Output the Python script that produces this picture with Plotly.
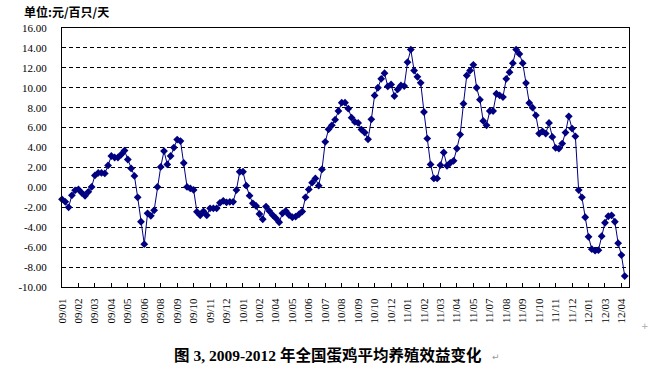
import plotly.graph_objects as go

# Weekly average egg-laying hen breeding profit (yuan per 100 hens per day)
values = [-1.2, -1.45, -2.0, -0.8, -0.3, -0.2, -0.55, -0.85, -0.45, 0.05,
          1.2, 1.45, 1.45, 1.4, 2.2, 3.15, 3.0, 3.0, 3.3, 3.7,
          2.8, 1.9, 1.15, -1.0, -3.45, -5.7, -2.6, -2.85, -2.3, 0.05,
          2.05, 3.65, 2.3, 3.15, 4.0, 4.8, 4.65, 2.45, 0.05, -0.1,
          -0.25, -2.45, -2.8, -2.4, -2.8, -2.1, -2.1, -2.1, -1.55, -1.35,
          -1.5, -1.45, -1.45, -0.27, 1.57, 1.57, 0.17, -0.83, -1.6, -1.87,
          -2.67, -3.2, -1.93, -2.37, -2.77, -3.1, -3.5, -2.6, -2.37, -2.77,
          -3.0, -2.93, -2.7, -2.43, -1.0, -0.2, 0.47, 0.9, 0.17, 1.8,
          4.57, 5.83, 6.23, 6.8, 7.67, 8.5, 8.5, 7.9, 7.0, 6.57,
          6.47, 5.8, 5.5, 4.83, 6.83, 9.23, 10.0, 10.9, 11.47, 10.13,
          10.33, 9.17, 9.83, 10.23, 10.17, 12.57, 13.83, 11.73, 11.1, 10.5,
          7.57, 4.9, 2.3, 0.9, 0.9, 2.23, 3.5, 2.17, 2.47, 2.67,
          3.9, 5.3, 8.4, 11.23, 11.73, 12.3, 10.0, 8.8, 6.67, 6.23,
          7.67, 7.67, 9.4, 9.23, 9.07, 10.9, 11.57, 12.47, 13.83, 13.4,
          12.47, 10.47, 8.47, 8.0, 7.23, 5.4, 5.63, 5.4, 6.47, 5.07,
          3.97, 3.9, 4.4, 5.5, 7.13, 5.9, 5.13, -0.27, -1.0, -3.0,
          -4.96, -6.2, -6.35, -6.3, -4.9, -3.55, -2.9, -2.8, -3.45, -5.6,
          -6.8, -8.9]

tick_labels = ["09/01", "09/02", "09/03", "09/04", "09/05", "09/06", "09/08",
               "09/09", "09/10", "09/11", "09/12", "10/01", "10/02", "10/04",
               "10/05", "10/06", "10/07", "10/08", "10/09", "10/10", "10/12",
               "11/01", "11/02", "11/03", "11/04", "11/05", "11/07", "11/08",
               "11/09", "11/10", "11/11", "11/12", "12/01", "12/03", "12/04"]
label_step = 5  # one label every 5 weekly points

y_ticks = [-10, -8, -6, -4, -2, 0, 2, 4, 6, 8, 10, 12, 14, 16]

unit_text = "单位:元/百只/天"
title_text = "图 3, 2009-2012 年全国蛋鸡平均养殖效益变化"

x = list(range(len(values)))
x_tickvals = [k * label_step for k in range(len(tick_labels))]

fig = go.Figure()
fig.add_trace(go.Scatter(
    x=x, y=values, mode="lines+markers",
    line=dict(color="#000080", width=1),
    marker=dict(symbol="diamond", size=6, color="#000080"),
    cliponaxis=False, showlegend=False, hoverinfo="skip",
))

serif = "Liberation Serif, Times New Roman, serif"

fig.update_layout(
    width=651, height=377,
    margin=dict(l=62, r=22, t=28, b=90),
    paper_bgcolor="white", plot_bgcolor="white",
    xaxis=dict(
        range=[0, 172.3],
        tickmode="array", tickvals=x_tickvals, ticktext=tick_labels,
        tickangle=-90, ticks="inside", ticklen=4, tickcolor="black",
        ticklabelstandoff=6,
        tickfont=dict(family=serif, size=11, color="black"),
        showgrid=False, zeroline=False,
        showline=True, linecolor="black", linewidth=1, mirror=True,
    ),
    yaxis=dict(
        range=[-10, 16],
        tickmode="array", tickvals=y_ticks,
        ticktext=[f"{v:.2f}" for v in y_ticks],
        ticks="", ticklabelstandoff=12,
        tickfont=dict(family=serif, size=11, color="black"),
        showgrid=True, gridcolor="black", gridwidth=1, griddash="4px,3px",
        zeroline=False,
        showline=True, linecolor="black", linewidth=1, mirror=True,
    ),
    annotations=[
        dict(text=unit_text, xref="paper", yref="paper",
             x=-0.0711, y=1.0656, xanchor="left", yanchor="middle",
             showarrow=False,
             font=dict(family="Noto Sans CJK SC", size=12, color="black",
                       weight="bold")),
        dict(text=title_text, xref="paper", yref="paper",
             x=0.469, y=-0.2625, xanchor="center", yanchor="middle",
             showarrow=False,
             font=dict(family="Liberation Serif, Noto Sans CJK SC",
                       size=15.5, color="black", weight="bold")),
        dict(text="↵", xref="paper", yref="paper",
             x=0.755, y=-0.27, xanchor="left", yanchor="middle",
             showarrow=False,
             font=dict(family="DejaVu Sans", size=9, color="#999999")),
        dict(text="+", xref="paper", yref="paper",
             x=1.028, y=-0.15, xanchor="center", yanchor="middle",
             showarrow=False,
             font=dict(family="DejaVu Sans", size=9, color="#aaaaaa")),
    ],
)

# remove the default 8px page margin so the figure fills the window exactly
fig.write_html("out.html",
               config={"displayModeBar": False, "staticPlot": True},
               post_script="document.body.style.margin='0';"
                           "document.body.style.overflow='hidden';")
